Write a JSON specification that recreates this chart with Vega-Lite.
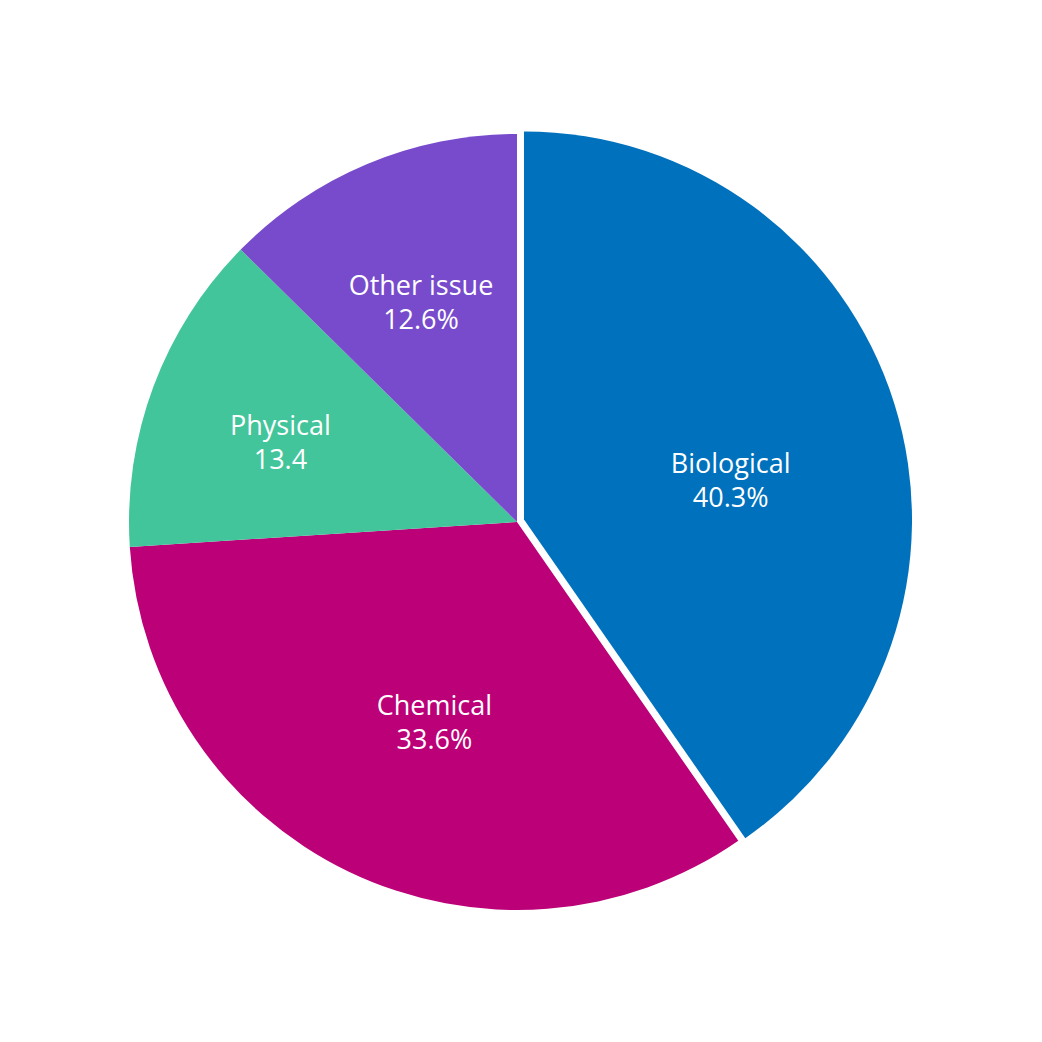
{
  "$schema": "https://vega.github.io/schema/vega-lite/v6.json",
  "width": 1034,
  "height": 1040,
  "padding": {"left": 0, "top": 2, "right": 8, "bottom": 0},
  "background": "white",
  "config": {"view": {"stroke": null}, "text": {"fontSize": 27, "font": "Open Sans", "color": "white"}},
  "data": {
    "values": [
      {"category": "Biological", "value": 40.3, "label": "40.3%"},
      {"category": "Chemical", "value": 33.6, "label": "33.6%"},
      {"category": "Physical", "value": 13.4, "label": "13.4"},
      {"category": "Other issue", "value": 12.6, "label": "12.6%"}
    ]
  },
  "encoding": {
    "theta": {"field": "value", "type": "quantitative", "stack": true},
    "order": {"field": "value", "type": "quantitative", "sort": "descending"}
  },
  "layer": [
    {
      "mark": {"type": "arc", "radius": 388},
      "encoding": {
        "color": {
          "field": "category", "type": "nominal", "legend": null,
          "scale": {"domain": ["Biological", "Chemical", "Physical", "Other issue"], "range": ["#0071BC", "#BC0077", "#43C59B", "#784BCC"]}
        },
        "opacity": {"condition": {"test": "datum.category === 'Biological'", "value": 0}, "value": 1}
      }
    },
    {
      "mark": {"type": "arc", "radius": 388, "xOffset": 7, "yOffset": -2.5},
      "encoding": {
        "color": {
          "field": "category", "type": "nominal", "legend": null,
          "scale": {"domain": ["Biological", "Chemical", "Physical", "Other issue"], "range": ["#0071BC", "#BC0077", "#43C59B", "#784BCC"]}
        },
        "opacity": {"condition": {"test": "datum.category === 'Biological'", "value": 1}, "value": 0}
      }
    },
    {
      "mark": {"type": "text", "radius": 210, "thetaOffset": 0.124, "xOffset": 7, "yOffset": -2.5, "dy": -17},
      "encoding": {"text": {"field": "category", "type": "nominal"}, "opacity": {"condition": {"test": "datum.category === 'Biological'", "value": 1}, "value": 0}}
    },
    {
      "mark": {"type": "text", "radius": 210, "thetaOffset": 0.124, "xOffset": 7, "yOffset": -2.5, "dy": 17},
      "encoding": {"text": {"field": "label", "type": "nominal"}, "opacity": {"condition": {"test": "datum.category === 'Biological'", "value": 1}, "value": 0}}
    },
    {
      "mark": {"type": "text", "radius": 218, "thetaOffset": -0.061, "dy": -17},
      "encoding": {"text": {"field": "category", "type": "nominal"}, "opacity": {"condition": {"test": "datum.category === 'Chemical'", "value": 1}, "value": 0}}
    },
    {
      "mark": {"type": "text", "radius": 218, "thetaOffset": -0.061, "dy": 17},
      "encoding": {"text": {"field": "label", "type": "nominal"}, "opacity": {"condition": {"test": "datum.category === 'Chemical'", "value": 1}, "value": 0}}
    },
    {
      "mark": {"type": "text", "radius": 249, "thetaOffset": -0.04, "dy": -17},
      "encoding": {"text": {"field": "category", "type": "nominal"}, "opacity": {"condition": {"test": "datum.category === 'Physical'", "value": 1}, "value": 0}}
    },
    {
      "mark": {"type": "text", "radius": 249, "thetaOffset": -0.04, "dy": 17},
      "encoding": {"text": {"field": "label", "type": "nominal"}, "opacity": {"condition": {"test": "datum.category === 'Physical'", "value": 1}, "value": 0}}
    },
    {
      "mark": {"type": "text", "radius": 238, "thetaOffset": -0.019, "dy": -17},
      "encoding": {"text": {"field": "category", "type": "nominal"}, "opacity": {"condition": {"test": "datum.category === 'Other issue'", "value": 1}, "value": 0}}
    },
    {
      "mark": {"type": "text", "radius": 238, "thetaOffset": -0.019, "dy": 17},
      "encoding": {"text": {"field": "label", "type": "nominal"}, "opacity": {"condition": {"test": "datum.category === 'Other issue'", "value": 1}, "value": 0}}
    }
  ]
}
